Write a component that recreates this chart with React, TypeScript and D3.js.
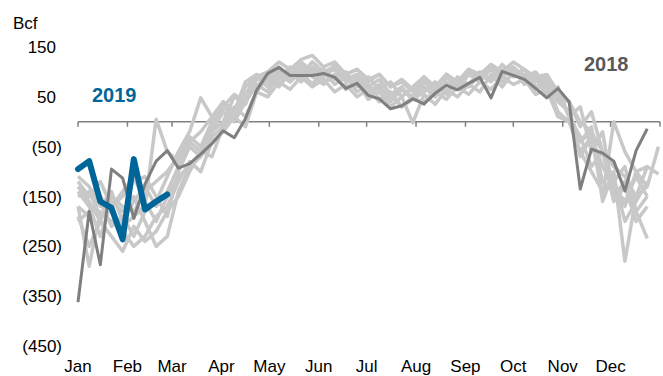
import React from "react";
import * as d3 from "d3";

const months = ["Jan", "Feb", "Mar", "Apr", "May", "Jun", "Jul", "Aug", "Sep", "Oct", "Nov", "Dec"];
const monthStartDays = [0, 31, 59, 90, 120, 151, 181, 212, 243, 273, 304, 334, 365];
const yTicks = [150, 50, -50, -150, -250, -350, -450];

const s2018 = [-362, -180, -287, -95, -113, -194, -125, -79, -58, -93, -84, -65, -44, -18, -32, 6, 63, 97, 109, 93, 93, 93, 97, 89, 67, 77, 53, 46, 26, 32, 46, 36, 57, 73, 64, 77, 89, 48, 101, 93, 85, 67, 48, 67, 40, -135, -55, -63, -79, -139, -58, -14];
const s2019 = [-95, -79, -160, -173, -236, -75, -176, -160, -146];

const g1 = [-130, -160, -200, -150, -170, -180, -140, -120, -100, -70, -30, -50, 0, 40, 20, 70, 90, 80, 105, 90, 115, 95, 100, 75, 90, 60, 75, 45, 60, 30, 50, 35, 70, 55, 85, 70, 95, 80, 105, 90, 95, 70, 80, 40, 20, -40, -10, -160, -100, -280, -150, -90];
const g2 = [-190, -250, -200, -230, -260, -210, -240, -220, -180, -150, -100, -60, -70, -10, 30, 10, 60, 90, 70, 100, 85, 110, 95, 105, 80, 90, 60, 75, 45, 65, 50, 80, 60, 90, 70, 100, 85, 110, 95, 105, 75, 90, 50, 60, 10, 30, -60, -20, -150, -120, -180, -234];
const g3 = [-110, -130, -170, -140, -200, -160, -130, -170, -140, -90, -40, -60, -10, 30, 10, 55, 90, 70, 100, 80, 110, 90, 75, 95, 65, 85, 50, 70, 40, 65, 45, 70, 50, 80, 65, 95, 80, 110, 90, 105, 80, 95, 60, 70, 10, -40, -20, -120, -140, -170, -100, -90, -105];
const g4 = [-150, -140, -190, -170, -150, -120, -110, -150, -190, -100, -50, -70, -20, 20, 0, 40, 75, 60, 95, 80, 100, 75, 105, 85, 100, 70, 90, 65, 80, 50, 70, 90, 65, 95, 75, 100, 85, 105, 80, 95, 85, 65, 75, 20, 0, -60, -30, -150, 0, -60, -100, -130, -50];
const g5 = [-170, -190, -150, -180, -210, -190, -170, 5, -60, -80, -40, -20, 10, 30, 55, 40, 85, 100, 85, 110, 95, 120, 100, 110, 85, 95, 70, 85, 55, 70, 45, 60, 80, 55, 90, 75, 100, 85, 115, 95, 105, 80, 90, 50, 40, -10, 20, -60, -90, -110, -150, -130];
const g6 = [-170, -290, -180, -200, -220, -250, -230, -190, -170, -120, -80, -100, -40, -20, 10, -10, 60, 50, 80, 65, 90, 70, 85, 60, 75, 50, 65, 40, 55, 30, 45, 40, 60, 45, 70, 55, 80, 65, 90, 75, 85, 55, 65, 10, 0, -60, -100, -140, -110, -200, -160, -120];
const g7 = [-200, -180, -160, -210, -190, -230, -180, -160, -110, -60, -20, 48, 10, 40, 20, 80, 95, 85, 110, 90, 120, 100, 90, 115, 95, 105, 85, 95, 70, 80, 60, 90, 70, 95, 80, 105, 90, 115, 100, 110, 90, 100, 70, 60, 10, -30, -90, -60, -160, -130, -200, -170];
const g8 = [-120, -150, -120, -170, -140, -110, -160, -200, -150, -110, -90, -60, -20, 0, 50, 35, 90, 100, 120, 105, 125, 133, 110, 120, 95, 105, 80, 95, 70, 85, 65, 85, 70, 95, 80, 105, 95, 115, 100, 120, 105, 90, 95, 60, 40, 0, -20, -60, -120, -90, -180, -150];
const g9 = [-140, -170, -230, -160, -180, -150, -200, -250, -230, -140, -90, -70, -30, -10, 25, 45, 70, 95, 75, 100, 80, 105, 80, 95, 65, 80, 45, 60, 30, 50, -2, 55, 35, 65, 50, 75, 60, 95, 70, 100, 95, 70, 85, 45, 20, -70, -30, -90, -130, -160, -110, -150];
const historical = [g1, g2, g3, g4, g5, g6, g7, g8, g9];

const W = 663;
const H = 376;

export default function App() {
  const x = d3.scaleLinear().domain([0, 365]).range([78, 660]);
  const y = d3.scaleLinear().domain([-450, 150]).range([346, 47]);
  const line = d3
    .line<number>()
    .x((_, i) => x(i * 7))
    .y((d) => y(d));
  const font = "'Liberation Sans', Arial, sans-serif";
  const y0 = y(0);

  return (
    <svg width={W} height={H} style={{ position: "absolute", left: 0, top: 0, background: "#fff" }} fontFamily={font}>
      <text x={13} y={29} fontSize={17} fill="#000">Bcf</text>
      {yTicks.map((t) => (
        <text key={t} x={t < 0 ? 62 : 56} y={y(t) + 6} fontSize={17} textAnchor="end" fill="#000">
          {t < 0 ? `(${Math.abs(t)})` : `${t}`}
        </text>
      ))}
      <line x1={x(0)} x2={x(365)} y1={y0} y2={y0} stroke="#808080" strokeWidth={1.5} />
      {monthStartDays.map((d, i) => (
        <line key={i} x1={x(d)} x2={x(d)} y1={y0} y2={y0 + 5} stroke="#808080" strokeWidth={1.5} />
      ))}
      {months.map((m, i) => (
        <text key={m} x={x(monthStartDays[i])} y={372} fontSize={17} textAnchor="middle" fill="#000">
          {m}
        </text>
      ))}
      {historical.map((s, i) => (
        <path key={i} d={line(s) || ""} fill="none" stroke="#c8c8c8" strokeWidth={3.5} strokeLinejoin="round" />
      ))}
      <path d={line(s2018) || ""} fill="none" stroke="#7f7f7f" strokeWidth={3} strokeLinejoin="round" />
      <path d={line(s2019) || ""} fill="none" stroke="#006699" strokeWidth={6} strokeLinejoin="round" strokeLinecap="round" />
      <text x={92} y={102} fontSize={20} fontWeight="bold" fill="#006699">2019</text>
      <text x={584} y={71} fontSize={20} fontWeight="bold" fill="#595959">2018</text>
    </svg>
  );
}
